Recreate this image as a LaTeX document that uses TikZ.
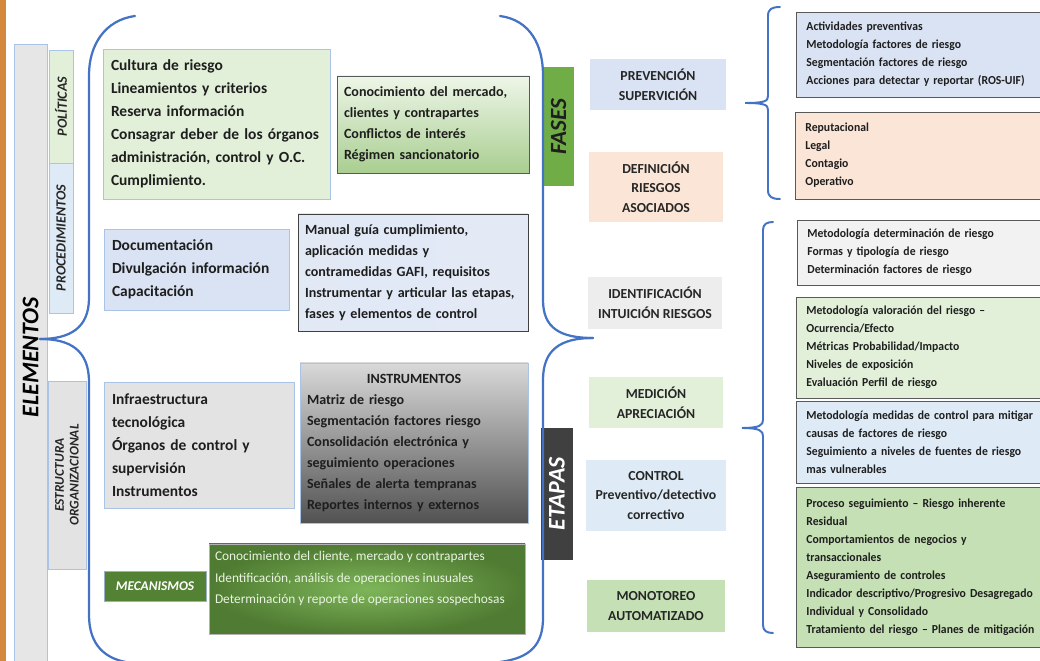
\documentclass[tikz,border=0pt]{standalone}
\usepackage{fontspec}
\setmainfont{Carlito}
\newfontfamily\listfont[FakeStretch=0.955]{Carlito}

\definecolor{braceblue}{HTML}{4472C4}
\definecolor{edgeblue}{HTML}{A9C4E6}
\definecolor{edgegray}{HTML}{595959}
\definecolor{stripe}{HTML}{D4883E}
\definecolor{elemgray}{HTML}{E7E6E6}
\definecolor{palegreen}{HTML}{E2F0D9}
\definecolor{paleblue}{HTML}{DAE3F3}
\definecolor{lightblue}{HTML}{DEEBF7}
\definecolor{palegray}{HTML}{E3E3E3}
\definecolor{palepeach}{HTML}{FBE5D6}
\definecolor{midgreen}{HTML}{C5E0B4}
\definecolor{grassgreen}{HTML}{70AD47}
\definecolor{darkgreen}{HTML}{548235}
\definecolor{darkgray}{HTML}{404040}
\definecolor{inktext}{HTML}{1E1E1E}
\definecolor{stagetext}{HTML}{262626}

\hyphenpenalty=10000
\exhyphenpenalty=10000

\tikzset{
  brace/.style={draw=braceblue, line width=1.6pt, line cap=round},
  sidebox/.style={rectangle, draw=edgeblue, line width=0.6pt, rotate=90, inner sep=0pt, text=stagetext},
  leftbox/.style={rectangle, draw=edgeblue, line width=0.6pt, align=left, inner xsep=0.2cm, text=inktext,
    font=\bfseries\fontsize{11}{16.3}\selectfont},
  midbox/.style={rectangle, draw=edgegray, line width=0.6pt, align=left, inner xsep=0.175cm, text=inktext,
    font=\bfseries\fontsize{10}{15}\selectfont},
  stagebox/.style={rectangle, align=center, text=stagetext, font=\bfseries\fontsize{9.8}{14}\selectfont},
  listbox/.style={rectangle, draw=edgegray, line width=0.6pt, align=left, inner xsep=0.25cm, text width=7cm,
    anchor=west, text=inktext, font=\listfont\bfseries\fontsize{8.7}{12.8}\selectfont},
}

\begin{document}
\begin{tikzpicture}[x=1cm,y=1cm]
\useasboundingbox (0,0) rectangle (26,-16.525);
\fill[stripe] (0,0) rectangle (0.15,-16.525);

% side labels
\node[sidebox, fill=elemgray, minimum width=15.65cm, minimum height=0.825cm,
  font=\bfseries\itshape\fontsize{17}{20}\selectfont, text=black] (elem) at (0.7625,-8.925) {ELEMENTOS};
\node[sidebox, fill=palegreen, minimum width=2.825cm, minimum height=0.6cm,
  font=\bfseries\itshape\fontsize{10}{12}\selectfont] (poli) at (1.525,-2.6625) {POLÍTICAS};
\node[sidebox, fill=lightblue, minimum width=3.75cm, minimum height=0.6cm,
  font=\bfseries\itshape\fontsize{10}{12}\selectfont] (proc) at (1.525,-5.95) {PROCEDIMIENTOS};
\node[sidebox, fill=palegray, minimum width=4.7cm, minimum height=0.95cm, align=center,
  font=\bfseries\itshape\fontsize{9.5}{10.5}\selectfont] (estr) at (1.675,-11.875) {ESTRUCTURA\\ORGANIZACIONAL};

% elements
\node[leftbox, fill=palegreen, text width=5.275cm, minimum height=3.75cm] (cult) at (5.4125,-3.1)
  {Cultura de riesgo\\Lineamientos y criterios\\Reserva información\\Consagrar deber de los órganos\\administración, control y O.C.\\Cumplimiento.};
\node[midbox, top color=palegreen!60!white, bottom color=grassgreen!60!white, text width=4.45cm,
  minimum height=2.425cm] (merc) at (10.825,-3.1125)
  {Conocimiento del mercado,\\clientes y contrapartes\\Conflictos de interés\\Régimen sancionatorio};
\node[leftbox, fill=paleblue, text width=4.225cm, minimum height=2.025cm] (docu) at (4.9125,-6.7375)
  {Documentación\\Divulgación información\\Capacitación};
\node[midbox, draw=darkgray, left color=paleblue!80!white, middle color=braceblue!50!paleblue,
  right color=paleblue!75!white, text width=5.4cm, minimum height=2.925cm] (manu) at (10.325,-6.8125)
  {Manual guía cumplimiento,\\aplicación medidas y\\contramedidas GAFI, requisitos\\Instrumentar y articular las etapas,\\fases y elementos de control};
\node[leftbox, fill=palegray, text width=4.35cm, minimum height=3.15cm] (infra) at (4.975,-11.125)
  {Infraestructura\\tecnológica\\Órganos de control y\\supervisión\\Instrumentos};
\node[midbox, draw=edgeblue, top color=black!15, bottom color=black!68, text width=5.35cm,
  minimum height=4.0cm] (instr) at (10.35,-11.075)
  {\makebox[\linewidth]{INSTRUMENTOS}\\Matriz de riesgo\\Segmentación factores riesgo\\Consolidación electrónica y\\seguimiento operaciones\\Señales de alerta tempranas\\Reportes internos y externos};
\node[rectangle, draw=edgeblue!70!gray, fill=darkgreen, minimum width=2.55cm, minimum height=0.75cm, text=white,
  font=\bfseries\itshape\fontsize{9.5}{12}\selectfont] (meca) at (3.875,-14.65) {MECANISMOS};
\node[rectangle, draw=gray!60, inner color=grassgreen!90!white, outer color=darkgreen!95!black,
  minimum width=7.9cm, minimum height=2.25cm] (mecx) at (9.175,-14.725) {};
\node[anchor=west, inner sep=0pt, align=left, text=palegreen!75!white, font=\fontsize{9.5}{15.3}\selectfont]
  (mecxt) at ([xshift=0.15cm, yshift=0.2625cm]mecx.west)
  {Conocimiento del cliente, mercado y contrapartes\\Identificación, análisis de operaciones inusuales\\Determinación y reporte de operaciones sospechosas};

% the two large braces
\coordinate (ltop) at (3.375,-0.4);
\coordinate (ltip) at (1.0,-8.475);
\coordinate (lbot) at (3.3,-16.575);
\draw[brace] (ltop) .. controls (2.625,-0.5) and (2.225,-1.125) .. (2.225,-1.875) -- (2.225,-7.45)
  .. controls (2.225,-8.2) and (1.75,-8.475) .. (ltip);
\draw[brace] (ltip) .. controls (1.75,-8.475) and (2.225,-8.75) .. (2.225,-9.55) -- (2.225,-15.375)
  .. controls (2.225,-16.125) and (2.625,-16.5) .. (lbot);

\node[sidebox, draw=none, fill=grassgreen, minimum width=2.975cm, minimum height=0.775cm, text=inktext,
  font=\bfseries\itshape\fontsize{16.5}{20}\selectfont] (fase) at (13.9625,-3.1625) {FASES};
\node[sidebox, draw=none, fill=darkgray, minimum width=3.3cm, minimum height=0.8cm, text=white,
  font=\bfseries\itshape\fontsize{17}{20}\selectfont] (etap) at (13.925,-12.35) {ETAPAS};

\coordinate (mtop) at (12.5,-0.4);
\coordinate (mtip) at (14.825,-8.45);
\coordinate (mbot) at (12.5,-16.55);
\draw[brace] (mtop) .. controls (13.25,-0.5) and (13.575,-1.125) .. (13.575,-1.875) -- (13.575,-7.5)
  .. controls (13.575,-8.2) and (14.0,-8.45) .. (mtip);
\draw[brace] (mtip) .. controls (14.0,-8.45) and (13.575,-8.75) .. (13.575,-9.5) -- (13.575,-15.45)
  .. controls (13.575,-16.125) and (13.25,-16.45) .. (mbot);

% phases and stages
\node[stagebox, fill=paleblue, minimum width=3.4cm, minimum height=1.275cm] (prev) at (16.45,-2.1125) {PREVENCIÓN\\SUPERVICIÓN};
\node[stagebox, fill=palepeach, minimum width=3.35cm, minimum height=1.75cm] (defi) at (16.4,-4.675) {DEFINICIÓN\\RIESGOS\\ASOCIADOS};
\node[stagebox, fill=black!7, minimum width=3.35cm, minimum height=1.3cm] (iden) at (16.375,-7.575) {IDENTIFICACIÓN\\INTUICIÓN RIESGOS};
\node[stagebox, fill=palegreen, minimum width=3.35cm, minimum height=1.275cm] (medi) at (16.4,-10.0625) {MEDICIÓN\\APRECIACIÓN};
\node[stagebox, fill=lightblue, minimum width=3.5cm, minimum height=1.775cm] (cont) at (16.4,-12.3875) {CONTROL\\Preventivo/detectivo\\correctivo};
\node[stagebox, fill=midgreen, minimum width=3.45cm, minimum height=1.3cm] (moni) at (16.4,-15.15) {MONOTOREO\\AUTOMATIZADO};

% right brackets
\coordinate (ftip) at (18.625,-2.575);
\coordinate (etip) at (18.55,-10.7);
\draw[brace, line width=1.4pt] (19.5,-0.175) .. controls (19.3,-0.175) and (19.2,-0.225) .. (19.2,-0.4) -- (19.2,-2.4)
  .. controls (19.2,-2.525) and (19.125,-2.575) .. (ftip)
  .. controls (19.125,-2.575) and (19.2,-2.625) .. (19.2,-2.75) -- (19.2,-4.75)
  .. controls (19.2,-4.925) and (19.3,-4.975) .. (19.5,-4.975);
\draw[brace, line width=1.4pt] (19.325,-5.55) .. controls (19.175,-5.55) and (19.075,-5.6) .. (19.075,-5.75) -- (19.075,-10.5)
  .. controls (19.075,-10.625) and (19.0,-10.7) .. (etip)
  .. controls (19.0,-10.7) and (19.075,-10.775) .. (19.075,-10.9) -- (19.075,-15.625)
  .. controls (19.075,-15.775) and (19.175,-15.825) .. (19.325,-15.825);

% detail lists
\node[listbox, fill=paleblue, minimum height=2.125cm] (acti) at (19.9,-1.3625)
  {Actividades preventivas\\Metodología factores de riesgo\\Segmentación factores de riesgo\\Acciones para detectar y reportar (ROS-UIF)};
\node[listbox, fill=palepeach, minimum height=2.175cm] (repu) at (19.875,-3.8875)
  {Reputacional\\Legal\\Contagio\\Operativo};
\node[listbox, fill=black!5, minimum height=1.625cm] (mdet) at (19.925,-6.3125)
  {Metodología determinación de riesgo\\Formas y tipología de riesgo\\Determinación factores de riesgo};
\node[listbox, fill=palegreen, minimum height=2.525cm] (mval) at (19.9,-8.6875)
  {Metodología valoración del riesgo –\\Ocurrencia/Efecto\\Métricas Probabilidad/Impacto\\Niveles de exposición\\Evaluación Perfil de riesgo};
\node[listbox, fill=lightblue, minimum height=2.05cm] (mmed) at (19.9,-11.05)
  {Metodología medidas de control para mitigar\\causas de factores de riesgo\\Seguimiento a niveles de fuentes de riesgo\\mas vulnerables};
\node[listbox, fill=midgreen, minimum height=4.0cm] (pseg) at (19.9,-14.175)
  {Proceso seguimiento – Riesgo inherente\\Residual\\Comportamientos de negocios y\\transaccionales\\Aseguramiento de controles\\Indicador descriptivo/Progresivo Desagregado\\Individual y Consolidado\\Tratamiento del riesgo – Planes de mitigación};
\end{tikzpicture}
\end{document}
